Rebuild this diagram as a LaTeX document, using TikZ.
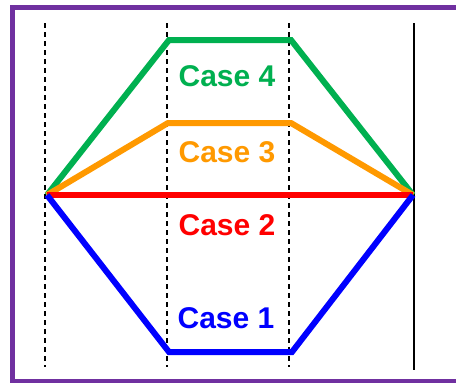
\documentclass[tikz,border=0pt]{standalone}
\usepackage{fontspec}
\setmainfont{Liberation Sans}
\usetikzlibrary{positioning}
\definecolor{framepurple}{RGB}{112,48,160}
\definecolor{casegreen}{RGB}{0,176,80}
\definecolor{caseorange}{RGB}{255,153,0}
\definecolor{casered}{RGB}{255,0,0}
\definecolor{caseblue}{RGB}{0,0,255}

\begin{document}
\begin{tikzpicture}[
    x=1pt, y=-1pt,
    guide/.style={black, line width=1.3pt, dash pattern=on 5pt off 4pt},
    wall/.style={black, line width=2.5pt},
    caseline/.style={line width=6pt},
    caselabel/.style={font=\fontsize{30}{30}\selectfont\bfseries, inner sep=0pt}
]
\useasboundingbox (0,0) rectangle (456,383);
\clip (0,0) rectangle (456,383);
\draw[framepurple, line width=4.5pt] (12.5,7.5) rectangle (475,381);

% guide lines
\coordinate (g1t) at (45,23);  \coordinate (g1b) at (45,367);
\coordinate (g2t) at (167,23); \coordinate (g2b) at (167,367);
\coordinate (g3t) at (289,23); \coordinate (g3b) at (289,367);
\coordinate (wallt) at (414,23); \coordinate (wallb) at (414,370);
\draw[guide] (g1t) -- (g1b);
\draw[guide] (g2t) -- (g2b);
\draw[guide] (g3t) -- (g3b);
\draw[wall]  (wallt) -- (wallb);

% end points and corners
\coordinate (left)  at (47,195);
\coordinate (right) at (413,195);
\coordinate (c4a) at (169,40);  \coordinate (c4b) at (291,40);
\coordinate (c3a) at (168,123); \coordinate (c3b) at (291,123);
\coordinate (c1a) at (169,352); \coordinate (c1b) at (292,352);

% cases
\draw[black, line width=1pt] ([yshift=2.5pt]left) -- ([yshift=2.5pt]right);
\draw[caseline, casegreen]  (left) -- (c4a) -- (c4b) -- (right);
\draw[caseline, caseorange] (left) -- (c3a) -- (c3b) -- (right);
\draw[caseline, casered]    (left) -- (right);
\draw[caseline, caseblue]   (left) -- (c1a) -- (c1b) -- (right);

\node[caselabel, text=casegreen]  (case4) at (227,76)  {Case 4};
\node[caselabel, text=caseorange] (case3) at (227,152) {Case 3};
\node[caselabel, text=casered]    (case2) at (227,225) {Case 2};
\node[caselabel, text=caseblue]   (case1) at (226,318) {Case 1};
\end{tikzpicture}
\end{document}
